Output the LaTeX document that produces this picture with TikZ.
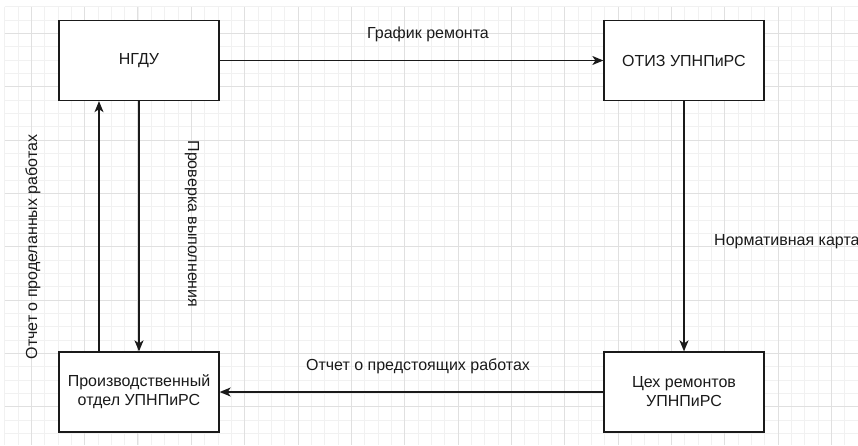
\documentclass[tikz,border=0pt]{standalone}
\usepackage{fontspec}
\setmainfont{Liberation Sans}
\usetikzlibrary{arrows.meta}
\definecolor{minorgrid}{HTML}{F1F1F1}
\definecolor{majorgrid}{HTML}{E0E0E0}
\definecolor{ink}{HTML}{1A1A1A}
\tikzset{
  box/.style={draw=ink, line width=1.3pt, fill=white, minimum width=160pt, minimum height=80pt, inner sep=0pt, align=center, text=ink, font=\fontsize{16}{19}\selectfont},
  conn/.style={draw=ink, line width=1.3pt, -{Stealth[length=11pt,width=9pt,inset=3pt]}},
  lbl/.style={text=ink, font=\fontsize{16}{19}\selectfont, inner sep=0pt},
  mingrid/.style={draw=minorgrid, line width=0.8pt},
  majgrid/.style={draw=majorgrid, line width=1pt}
}
\begin{document}
\begin{tikzpicture}[x=1pt,y=-1pt]
\useasboundingbox (0,0) rectangle (858,445);
\fill[white] (0,0) rectangle (858,445);
% grid
\foreach \i in {0,...,64} {\draw[mingrid] ({4.67+\i*13.333},6.67) -- ({4.67+\i*13.333},445);}
\foreach \j in {0,...,32} {\draw[mingrid] (4.67,{6.67+\j*13.333}) -- (858,{6.67+\j*13.333});}
\foreach \i in {0,...,15} {\draw[majgrid] ({31.33+\i*53.333},6.67) -- ({31.33+\i*53.333},445);}
\foreach \j in {0,...,7} {\draw[majgrid] (4.67,{33.33+\j*53.333}) -- (858,{33.33+\j*53.333});}
% boxes
\node[box] (ngdu) at (139,60.5) {НГДУ};
\node[box] (otiz) at (684,60.5) {ОТИЗ УПНПиРС};
\node[box] (prod) at (139,392) {Производственный\\отдел УПНПиРС};
\node[box] (tseh) at (684,392) {Цех ремонтов\\УПНПиРС};
% connectors
\draw[conn] (ngdu.east) -- (otiz.west);
\draw[conn] (otiz.south) -- (tseh.north);
\draw[conn] (tseh.west) -- (prod.west -| prod.east);
\draw[conn] ([xshift=-40pt]prod.north) -- ([xshift=-40pt]ngdu.south);
\draw[conn] (ngdu.south) -- (prod.north);
% labels
\node[lbl] (l1) at (428,34) {График ремонта};
\node[lbl, anchor=west] (l2) at (714,242) {Нормативная карта};
\node[lbl] (l3) at (418,366) {Отчет о предстоящих работах};
\node[lbl, rotate=90] (l4) at (33,247) {Отчет о проделанных работах};
\node[lbl, rotate=-90] (l5) at (192,224) {Проверка выполнения};
\end{tikzpicture}
\end{document}
